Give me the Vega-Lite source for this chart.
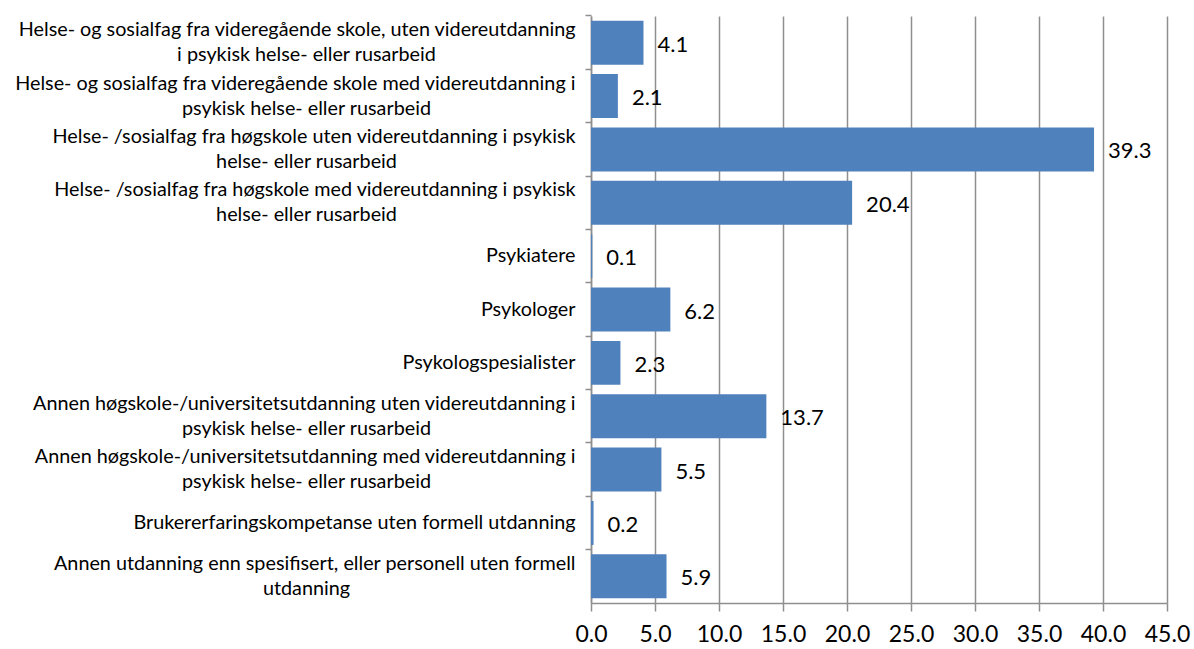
{
  "$schema": "https://vega.github.io/schema/vega-lite/v6.json",
  "width": 576,
  "height": 587,
  "autosize": {"type": "none"},
  "padding": {"left": 591, "top": 16, "right": 27, "bottom": 46},
  "background": "white",
  "config": {"view": {"stroke": null}, "font": "Lato"},
  "data": {
    "values": [
      {"cat": "Helse- og sosialfag fra videregående skole, uten videreutdanning|i psykisk helse- eller rusarbeid", "value": 4.1},
      {"cat": "Helse- og sosialfag fra videregående skole med videreutdanning i|psykisk helse- eller rusarbeid", "value": 2.1},
      {"cat": "Helse- /sosialfag fra høgskole uten videreutdanning i psykisk|helse- eller rusarbeid", "value": 39.3},
      {"cat": "Helse- /sosialfag fra høgskole med videreutdanning i psykisk|helse- eller rusarbeid", "value": 20.4},
      {"cat": "Psykiatere", "value": 0.1},
      {"cat": "Psykologer", "value": 6.2},
      {"cat": "Psykologspesialister", "value": 2.3},
      {"cat": "Annen høgskole-/universitetsutdanning uten videreutdanning i|psykisk helse- eller rusarbeid", "value": 13.7},
      {"cat": "Annen høgskole-/universitetsutdanning med videreutdanning i|psykisk helse- eller rusarbeid", "value": 5.5},
      {"cat": "Brukererfaringskompetanse uten formell utdanning", "value": 0.2},
      {"cat": "Annen utdanning enn spesifisert, eller personell uten formell|utdanning", "value": 5.9}
    ]
  },
  "encoding": {
    "x": {
      "field": "value",
      "type": "quantitative",
      "scale": {"domain": [0, 45], "nice": false},
      "axis": {
        "title": null,
        "values": [0, 5, 10, 15, 20, 25, 30, 35, 40, 45],
        "format": ".1f",
        "grid": true,
        "gridColor": "#8f8f8f",
        "gridWidth": 1.5,
        "domainColor": "#8f8f8f",
        "domainWidth": 1.5,
        "tickColor": "#8f8f8f",
        "tickWidth": 1.5,
        "tickSize": 8,
        "labelPadding": 12,
        "labelFontSize": 23,
        "labelColor": "#000000",
        "labelFont": "Lato",
        "labelFlush": false
      }
    }
  },
  "layer": [
    {
      "mark": {"type": "bar", "color": "#4F81BD"},
      "encoding": {
        "y": {
          "field": "cat",
          "type": "nominal",
          "sort": null,
          "scale": {"type": "band", "paddingInner": 0.176, "paddingOuter": 0.088},
          "axis": {
            "title": null,
            "labelExpr": "split(datum.value, '|')[0]",
            "labelAlign": "right",
            "labelBaseline": "middle",
            "labelOffset": {"condition": {"test": "indexof(datum.value, '|') >= 0", "value": -12.5}, "value": 0},
            "labelFontSize": 19.8,
            "labelColor": "#000000",
            "labelPadding": 10,
            "labelLimit": 0,
            "bandPosition": -0.107,
            "domainColor": "#8f8f8f",
            "domainWidth": 1.5,
            "tickColor": "#8f8f8f",
            "tickWidth": 1.5,
            "tickSize": 6,
            "grid": false
          }
        }
      }
    },
    {
      "mark": {"type": "text", "align": "left", "baseline": "middle", "dx": 14, "dy": 2, "fontSize": 22, "color": "#000000"},
      "encoding": {
        "y": {
          "field": "cat",
          "type": "nominal",
          "sort": null,
          "scale": {"type": "band", "paddingInner": 0.176, "paddingOuter": 0.088},
          "axis": {
            "title": null,
            "orient": "left",
            "labelExpr": "indexof(datum.value, '|') >= 0 ? split(datum.value, '|')[1] : ''",
            "labelAlign": "center",
            "labelBaseline": "middle",
            "labelOffset": 12.5,
            "labelFontSize": 19.8,
            "labelColor": "#000000",
            "labelPadding": 285,
            "labelLimit": 0,
            "ticks": false,
            "domain": false,
            "grid": false
          }
        },
        "text": {"field": "value", "type": "quantitative", "format": ".1f"}
      }
    }
  ],
  "resolve": {"scale": {"y": "independent"}}
}
